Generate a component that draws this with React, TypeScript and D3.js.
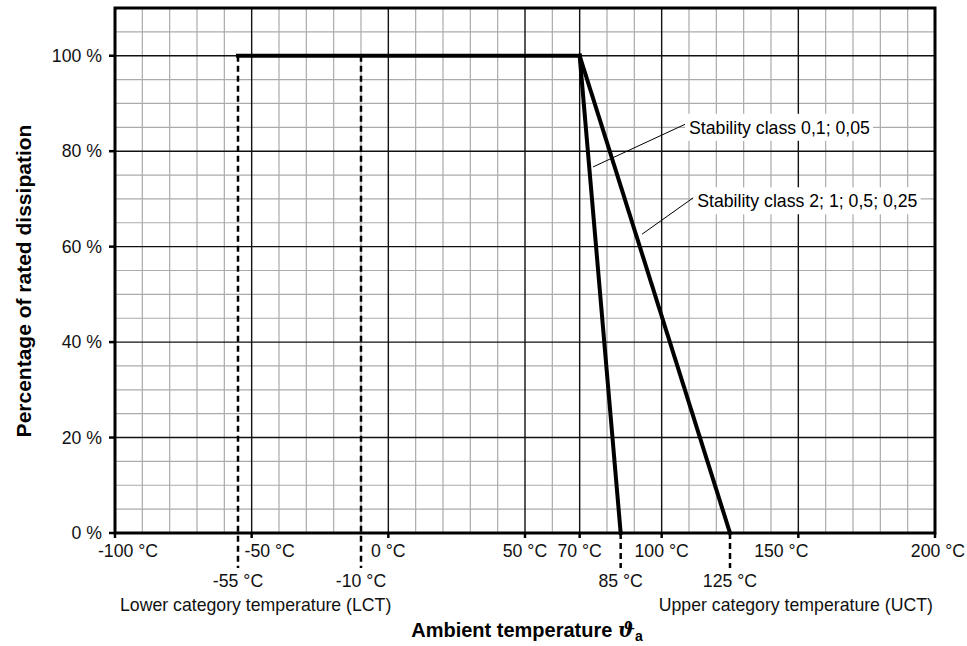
import React, { useEffect, useRef } from "react";
import * as d3 from "d3";

// ---- data ----
const tempMin = -100;
const tempMax = 200;
const pctMin = 0;
const pctMax = 110;
const tempMajorTicks = [-100, -50, 0, 50, 70, 100, 150, 200];
const tempMinorStep = 10;
const pctMajorTicks = [0, 20, 40, 60, 80, 100];
const pctMinorStep = 5;
const plateau: [number, number][] = [[-55, 100], [70, 100]];
const derating01: [number, number][] = [[70, 100], [85, 0]];
const derating2: [number, number][] = [[70, 100], [125, 0]];
const lctTemps = [-55, -10];
const uctTemps = [85, 125];
const categoryLabels = ["-55 °C", "-10 °C", "85 °C", "125 °C"];
const categoryTemps = [-55, -10, 85, 125];
const annotationTexts = ["Stability class 0,1; 0,05", "Stability class 2; 1; 0,5; 0,25"];
const annotationTextAt: [number, number][] = [[110, 85], [113, 69.6]];
const annotationPointAt: [number, number][] = [[74.9, 76.7], [92.8, 62.6]];
const xTitle = "Ambient temperature ";
const yTitle = "Percentage of rated dissipation";
const lctLabel = "Lower category temperature (LCT)";
const uctLabel = "Upper category temperature (UCT)";

// layout-only label nudges (px)
const xTickLabelShift: Record<number, number> = { [-100]: 13, [-50]: 18, 0: 0, 50: 0, 70: 0, 100: 0, 150: -17, 200: 3 };

const W = 967;
const H = 646;
const FONT = "'Liberation Sans', Arial, Helvetica, sans-serif";
const FS = 17.7;

export default function App() {
  const ref = useRef<SVGSVGElement>(null);

  useEffect(() => {
    const svg = d3.select(ref.current);
    svg.selectAll("*").remove();

    const x = d3.scaleLinear().domain([tempMin, tempMax]).range([115, 935]);
    const y = d3.scaleLinear().domain([pctMin, pctMax]).range([533, 8]);

    const g = svg.append("g").style("font-family", FONT);

    // minor grid
    const minorX = d3.range(tempMin, tempMax + 0.001, tempMinorStep).filter((v) => !tempMajorTicks.includes(v));
    const minorY = d3.range(pctMin, pctMax + 0.001, pctMinorStep).filter((v) => !pctMajorTicks.includes(v));
    g.selectAll(".mx").data(minorX).join("line")
      .attr("x1", (d) => x(d)).attr("x2", (d) => x(d))
      .attr("y1", y(pctMin)).attr("y2", y(pctMax))
      .attr("stroke", "#ababab").attr("stroke-width", 1.2);
    g.selectAll(".my").data(minorY).join("line")
      .attr("x1", x(tempMin)).attr("x2", x(tempMax))
      .attr("y1", (d) => y(d)).attr("y2", (d) => y(d))
      .attr("stroke", "#ababab").attr("stroke-width", 1.2);

    // major grid
    g.selectAll(".Mx").data(tempMajorTicks).join("line")
      .attr("x1", (d) => x(d)).attr("x2", (d) => x(d))
      .attr("y1", y(pctMin)).attr("y2", y(pctMax))
      .attr("stroke", "#111").attr("stroke-width", 1.4);
    g.selectAll(".My").data(pctMajorTicks).join("line")
      .attr("x1", x(tempMin)).attr("x2", x(tempMax))
      .attr("y1", (d) => y(d)).attr("y2", (d) => y(d))
      .attr("stroke", "#111").attr("stroke-width", 1.4);

    // annotation backgrounds + texts (white boxes interrupt grid)
    const ann = g.append("g");
    annotationTexts.forEach((t, i) => {
      const [tx, ty] = annotationTextAt[i];
      const txt = ann.append("text")
        .attr("x", x(tx)).attr("y", y(ty)).attr("dy", "0.35em")
        .attr("font-size", FS).attr("fill", "#000").text(t);
      const bb = (txt.node() as SVGTextElement).getBBox();
      ann.insert("rect", "text")
        .attr("x", bb.x - 4).attr("y", y(ty) - 13.5)
        .attr("width", bb.width + 7).attr("height", 27)
        .attr("fill", "#fff");
    });

    // frame
    g.append("rect")
      .attr("x", x(tempMin)).attr("y", y(pctMax))
      .attr("width", x(tempMax) - x(tempMin)).attr("height", y(pctMin) - y(pctMax))
      .attr("fill", "none").attr("stroke", "#000").attr("stroke-width", 3);

    // ticks
    g.selectAll(".tx").data(tempMajorTicks).join("line")
      .attr("x1", (d) => x(d)).attr("x2", (d) => x(d))
      .attr("y1", y(0)).attr("y2", y(0) + 5)
      .attr("stroke", "#000").attr("stroke-width", 2.5);
    g.selectAll(".ty").data(pctMajorTicks).join("line")
      .attr("x1", x(tempMin) - 6).attr("x2", x(tempMin))
      .attr("y1", (d) => y(d)).attr("y2", (d) => y(d))
      .attr("stroke", "#000").attr("stroke-width", 2.5);

    // tick labels
    g.selectAll(".txl").data(tempMajorTicks).join("text")
      .attr("x", (d) => x(d) + (xTickLabelShift[d] || 0)).attr("y", 557)
      .attr("text-anchor", "middle").attr("font-size", FS).attr("fill", "#111")
      .text((d) => `${d} °C`);
    g.selectAll(".tyl").data(pctMajorTicks).join("text")
      .attr("x", 102).attr("y", (d) => y(d)).attr("dy", "0.35em")
      .attr("text-anchor", "end").attr("font-size", FS).attr("fill", "#111")
      .text((d) => `${d} %`);

    // dashed category lines
    lctTemps.forEach((t) => {
      g.append("line")
        .attr("x1", x(t)).attr("x2", x(t)).attr("y1", y(100)).attr("y2", 568)
        .attr("stroke", "#000").attr("stroke-width", 2.5).attr("stroke-dasharray", "6,4");
    });
    uctTemps.forEach((t) => {
      g.append("line")
        .attr("x1", x(t)).attr("x2", x(t)).attr("y1", y(0)).attr("y2", 568)
        .attr("stroke", "#000").attr("stroke-width", 2.5).attr("stroke-dasharray", "6,4");
    });
    g.selectAll(".cl").data(categoryTemps).join("text")
      .attr("x", (d) => x(d)).attr("y", 587)
      .attr("text-anchor", "middle").attr("font-size", FS).attr("fill", "#111")
      .text((_, i) => categoryLabels[i]);

    g.append("text").attr("x", 120).attr("y", 611).attr("font-size", FS).attr("fill", "#111").text(lctLabel);
    g.append("text").attr("x", 933).attr("y", 611).attr("text-anchor", "end").attr("font-size", FS).attr("fill", "#111").text(uctLabel);

    // curves
    const line = d3.line<[number, number]>().x((d) => x(d[0])).y((d) => y(d[1]));
    [plateau, derating01, derating2].forEach((s) => {
      g.append("path").attr("d", line(s)).attr("fill", "none")
        .attr("stroke", "#000").attr("stroke-width", 4).attr("stroke-linejoin", "miter").attr("stroke-linecap", "square");
    });

    // leader lines
    annotationTexts.forEach((_, i) => {
      const [tx, ty] = annotationTextAt[i];
      const [px, py] = annotationPointAt[i];
      g.append("line")
        .attr("x1", x(tx) - 4).attr("y1", y(ty) - 3)
        .attr("x2", x(px)).attr("y2", y(py))
        .attr("stroke", "#000").attr("stroke-width", 1);
    });

    // axis titles
    const xt = g.append("text").attr("x", 527).attr("y", 637).attr("text-anchor", "middle")
      .attr("font-size", 20).attr("font-weight", "bold").attr("fill", "#000");
    xt.append("tspan").text(xTitle);
    xt.append("tspan").attr("font-style", "italic").attr("font-family", "'DejaVu Serif', serif").text("ϑ");
    xt.append("tspan").attr("font-size", 14).attr("dy", 4).text("a");

    g.append("text")
      .attr("transform", `translate(31,${281}) rotate(-90)`)
      .attr("text-anchor", "middle").attr("font-size", 21).attr("font-weight", "bold").attr("fill", "#000")
      .text(yTitle);
  }, []);

  return (
    <svg ref={ref} width={W} height={H} style={{ position: "absolute", left: 0, top: 0, background: "#fff" }} />
  );
}
